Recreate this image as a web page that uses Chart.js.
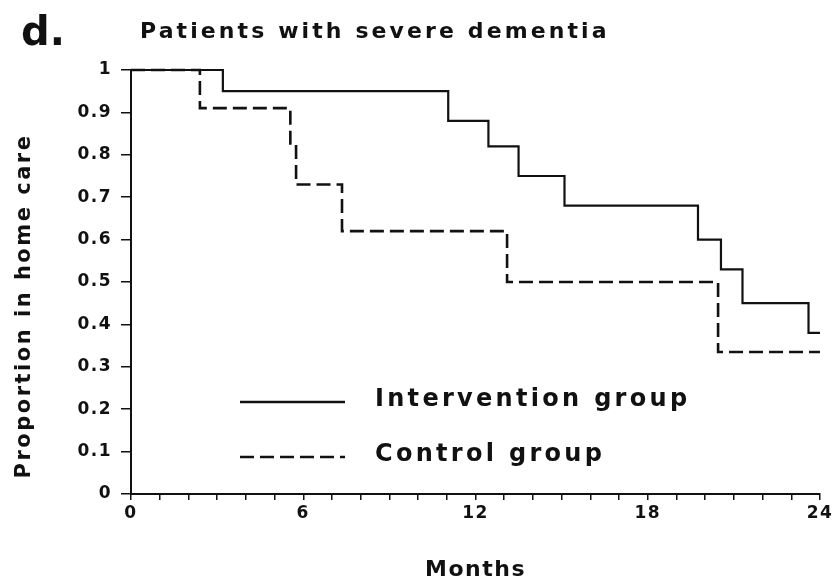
<!DOCTYPE html>
<html><head><meta charset="utf-8">
<script src="https://cdn.jsdelivr.net/npm/chart.js@4.4.1/dist/chart.umd.min.js"></script>
<style>
html,body{margin:0;padding:0;background:#fff;}
#wrap{position:relative;width:835px;height:581px;overflow:hidden;}
canvas{position:absolute;left:0;top:0;}
#lbl{position:absolute;left:21px;top:11px;font:bold 40px "DejaVu Sans",sans-serif;line-height:1;color:#111;}
#ttl{position:absolute;left:140px;top:20px;font:bold 22px "DejaVu Sans",sans-serif;letter-spacing:3.1px;line-height:1;color:#111;white-space:nowrap;}
</style></head><body>
<div id="wrap">
<canvas id="c" width="835" height="581"></canvas>
<div id="lbl">d.</div>
<div id="ttl">Patients with severe dementia</div>
</div>
<script>
// ---- data ----
const panelLabel = 'd.';
const chartTitle = 'Patients with severe dementia';
const xAxisTitle = 'Months';
const yAxisTitle = 'Proportion in home care';
const seriesLabels = ['Intervention group', 'Control group'];
const xTickLabels = [0, 6, 12, 18, 24];
const yTickValues = [0, 0.1, 0.2, 0.3, 0.4, 0.5, 0.6, 0.7, 0.8, 0.9, 1];
const interventionMonths = [0, 3.2, 11.05, 12.45, 13.5, 15.1, 19.75, 20.55, 21.3, 23.6, 24];
const interventionValues = [1, 0.95, 0.88, 0.82, 0.75, 0.68, 0.60, 0.53, 0.45, 0.38, 0.38];
const controlMonths = [0, 2.4, 5.55, 5.75, 7.35, 13.1, 20.45, 24];
const controlValues = [1, 0.91, 0.82, 0.73, 0.62, 0.50, 0.335, 0.335];

const toPoints = (xs, ys) => xs.map((x, i) => ({x: x, y: ys[i]}));
const INK = '#111';
const FONT = '"DejaVu Sans", sans-serif';

const spacingPlugin = {
  id: 'spacing',
  beforeDraw(chart) { chart.ctx.letterSpacing = '1.5px'; }
};

const annotatePlugin = {
  id: 'insideLegend',
  afterDraw(chart) {
    const ctx = chart.ctx, a = chart.chartArea;
    // y-axis title
    ctx.save();
    ctx.letterSpacing = '2.5px';
    ctx.font = '600 21px ' + FONT;
    ctx.fillStyle = INK;
    ctx.textAlign = 'center';
    ctx.textBaseline = 'middle';
    ctx.translate(25, a.top + 236);
    ctx.rotate(-Math.PI / 2);
    ctx.fillText(yAxisTitle, 0, 0);
    ctx.restore();
    // legend
    ctx.save();
    ctx.letterSpacing = '3.3px';
    ctx.font = '600 24px ' + FONT;
    ctx.fillStyle = INK;
    ctx.textBaseline = 'middle';
    const rows = [a.top + 332, a.top + 387];
    chart.data.datasets.forEach((ds, i) => {
      const y = rows[i];
      ctx.beginPath();
      ctx.strokeStyle = INK;
      ctx.lineWidth = 2.5;
      ctx.setLineDash(ds.borderDash || []);
      ctx.moveTo(a.left + 109, y);
      ctx.lineTo(a.left + 214, y);
      ctx.stroke();
      ctx.setLineDash([]);
      ctx.fillText(ds.label, a.left + 244, y - 2);
    });
    ctx.restore();
  }
};

new Chart(document.getElementById('c'), {
  type: 'line',
  data: {
    datasets: [
      { label: seriesLabels[0], data: toPoints(interventionMonths, interventionValues),
        borderColor: INK, borderWidth: 2.2, stepped: true, pointRadius: 0, fill: false, clip: false },
      { label: seriesLabels[1], data: toPoints(controlMonths, controlValues),
        borderColor: INK, borderWidth: 2.6, borderDash: [14, 6], stepped: true, pointRadius: 0, fill: false, clip: false }
    ]
  },
  options: {
    responsive: false,
    animation: false,
    layout: { padding: { top: 70, right: 15, left: 0, bottom: 0 } },
    plugins: { legend: { display: false }, tooltip: { enabled: false }, title: { display: false } },
    scales: {
      x: {
        type: 'linear', min: 0, max: 24,
        afterFit(s) { s.height = 87; },
        border: { display: true, color: INK, width: 2 },
        grid: { drawOnChartArea: false, drawTicks: true, tickLength: 6, color: INK, lineWidth: 1.5 },
        ticks: {
          stepSize: 1, autoSkip: false, maxRotation: 0, padding: 3,
          color: INK, font: { family: FONT, size: 17, weight: 'bold' },
          callback: v => xTickLabels.includes(v) ? String(v) : ''
        },
        title: { display: true, text: xAxisTitle, color: INK, padding: { top: 0, bottom: 0 },
                 font: { family: FONT, size: 22, weight: 'bold', lineHeight: 1 } }
      },
      y: {
        min: 0, max: 1,
        afterFit(s) { s.width = 131; },
        afterBuildTicks(s) { s.ticks = yTickValues.map(v => ({value: v})); },
        border: { display: true, color: INK, width: 2 },
        grid: { drawOnChartArea: false, drawTicks: true, tickLength: 10, color: INK, lineWidth: 1.5 },
        ticks: {
          padding: 9, color: INK, font: { family: FONT, size: 17, weight: 'bold' },
          callback: v => String(+v.toFixed(1))
        },
        title: { display: false }
      }
    }
  },
  plugins: [spacingPlugin, annotatePlugin]
});
</script>
</body></html>
